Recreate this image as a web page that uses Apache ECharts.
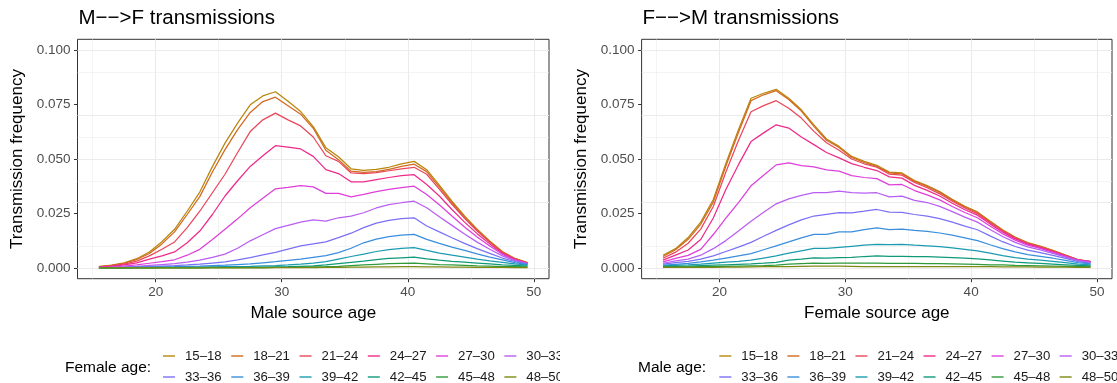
<!DOCTYPE html>
<html>
<head>
<meta charset="utf-8">
<script src="https://cdn.jsdelivr.net/npm/echarts@6/dist/echarts.min.js"></script>
<style>
html,body{margin:0;padding:0;background:#fff;width:1117px;height:383px;overflow:hidden;}
#c1{position:absolute;left:0;top:0;width:560px;height:383px;}
#c2{position:absolute;left:560px;top:0;width:557px;height:383px;}
</style>
</head>
<body>
<div id="c1"></div>
<div id="c2"></div>
<script>
// ---- shared axis values ----
const ages = [15.5,16.5,17.5,18.5,19.5,20.5,21.5,22.5,23.5,24.5,25.5,26.5,27.5,28.5,29.5,30.5,31.5,32.5,33.5,34.5,35.5,36.5,37.5,38.5,39.5,40.5,41.5,42.5,43.5,44.5,45.5,46.5,47.5,48.5,49.5];
const groups = ['15–18','18–21','21–24','24–27','27–30','30–33','33–36','36–39','39–42','42–45','45–48','48–50'];
const xTicks = [20,30,40,50];
const xMinor = [15,25,35,45];
const yTicks = [0,0.025,0.05,0.075,0.1];
const yMinor = [0.0125,0.0375,0.0625,0.0875];

// ---- M-->F transmissions (by female age group) ----
const mf_15_18 = [0.0006,0.0012,0.0023,0.0042,0.0073,0.0120,0.0177,0.0260,0.0348,0.0465,0.0573,0.0665,0.0749,0.0790,0.0809,0.0765,0.0718,0.0649,0.0552,0.0510,0.0455,0.0448,0.0452,0.0462,0.0478,0.0489,0.0451,0.0380,0.0306,0.0238,0.0178,0.0123,0.0075,0.0043,0.0024];
const mf_18_21 = [0.0005,0.0011,0.0021,0.0038,0.0066,0.0110,0.0165,0.0245,0.0327,0.0440,0.0543,0.0635,0.0714,0.0764,0.0784,0.0745,0.0706,0.0641,0.0540,0.0497,0.0444,0.0438,0.0442,0.0452,0.0466,0.0476,0.0442,0.0372,0.0300,0.0233,0.0174,0.0120,0.0073,0.0042,0.0023];
const mf_21_24 = [0.0004,0.0009,0.0017,0.0031,0.0055,0.0085,0.0119,0.0185,0.0260,0.0345,0.0430,0.0530,0.0626,0.0680,0.0711,0.0680,0.0652,0.0601,0.0515,0.0489,0.0436,0.0433,0.0437,0.0446,0.0455,0.0462,0.0430,0.0362,0.0292,0.0227,0.0169,0.0117,0.0071,0.0041,0.0022];
const mf_24_27 = [0.0003,0.0007,0.0013,0.0023,0.0040,0.0055,0.0073,0.0115,0.0169,0.0245,0.0330,0.0400,0.0466,0.0515,0.0561,0.0555,0.0546,0.0512,0.0451,0.0433,0.0395,0.0395,0.0405,0.0415,0.0424,0.0428,0.0383,0.0330,0.0268,0.0210,0.0157,0.0110,0.0067,0.0038,0.0021];
const mf_27_30 = [0.0002,0.0004,0.0008,0.0014,0.0021,0.0028,0.0037,0.0058,0.0085,0.0130,0.0177,0.0225,0.0276,0.0320,0.0363,0.0370,0.0378,0.0372,0.0342,0.0342,0.0326,0.0337,0.0350,0.0360,0.0368,0.0375,0.0337,0.0290,0.0238,0.0188,0.0142,0.0100,0.0062,0.0036,0.0020];
const mf_30_33 = [0.0001,0.0002,0.0004,0.0007,0.0011,0.0015,0.0019,0.0026,0.0035,0.0048,0.0063,0.0090,0.0124,0.0152,0.0180,0.0195,0.0210,0.0220,0.0215,0.0230,0.0238,0.0253,0.0275,0.0290,0.0299,0.0306,0.0276,0.0235,0.0195,0.0155,0.0118,0.0085,0.0055,0.0033,0.0019];
const mf_33_36 = [0.0000,0.0001,0.0002,0.0004,0.0006,0.0008,0.0010,0.0013,0.0017,0.0022,0.0027,0.0036,0.0047,0.0059,0.0071,0.0086,0.0101,0.0110,0.0119,0.0139,0.0159,0.0185,0.0205,0.0218,0.0226,0.0230,0.0192,0.0165,0.0138,0.0112,0.0088,0.0066,0.0045,0.0029,0.0017];
const mf_36_39 = [0.0000,0.0000,0.0001,0.0002,0.0003,0.0004,0.0005,0.0007,0.0008,0.0010,0.0012,0.0015,0.0018,0.0023,0.0028,0.0034,0.0040,0.0048,0.0056,0.0070,0.0090,0.0115,0.0132,0.0143,0.0150,0.0154,0.0131,0.0112,0.0095,0.0080,0.0064,0.0049,0.0036,0.0024,0.0015];
const mf_39_42 = [0.0000,0.0000,0.0000,0.0001,0.0001,0.0002,0.0002,0.0003,0.0003,0.0004,0.0005,0.0006,0.0007,0.0009,0.0010,0.0013,0.0017,0.0022,0.0028,0.0040,0.0052,0.0063,0.0075,0.0084,0.0089,0.0093,0.0080,0.0068,0.0058,0.0049,0.0040,0.0032,0.0025,0.0018,0.0012];
const mf_42_45 = [0.0000,0.0000,0.0000,0.0000,0.0000,0.0001,0.0001,0.0001,0.0001,0.0002,0.0002,0.0002,0.0003,0.0003,0.0004,0.0005,0.0007,0.0009,0.0013,0.0019,0.0025,0.0031,0.0038,0.0043,0.0046,0.0049,0.0041,0.0035,0.0030,0.0026,0.0022,0.0018,0.0014,0.0011,0.0008];
const mf_45_48 = [0.0000,0.0000,0.0000,0.0000,0.0000,0.0000,0.0000,0.0000,0.0000,0.0001,0.0001,0.0001,0.0001,0.0001,0.0002,0.0002,0.0003,0.0004,0.0005,0.0007,0.0010,0.0013,0.0016,0.0019,0.0020,0.0021,0.0018,0.0015,0.0013,0.0011,0.0009,0.0008,0.0006,0.0005,0.0004];
const mf_48_50 = [0.0000,0.0000,0.0000,0.0000,0.0000,0.0000,0.0000,0.0000,0.0000,0.0000,0.0000,0.0000,0.0000,0.0000,0.0001,0.0001,0.0001,0.0001,0.0002,0.0002,0.0003,0.0003,0.0004,0.0004,0.0005,0.0005,0.0004,0.0004,0.0003,0.0003,0.0002,0.0002,0.0002,0.0001,0.0001];

// ---- F-->M transmissions (by male age group) ----
const fm_15_18 = [0.0058,0.0088,0.0139,0.0210,0.0314,0.0480,0.0635,0.0779,0.0802,0.0820,0.0779,0.0726,0.0657,0.0592,0.0558,0.0512,0.0489,0.0471,0.0440,0.0436,0.0401,0.0378,0.0350,0.0315,0.0283,0.0257,0.0215,0.0175,0.0141,0.0116,0.0100,0.0080,0.0059,0.0038,0.0030];
const fm_18_21 = [0.0052,0.0083,0.0131,0.0200,0.0302,0.0468,0.0622,0.0768,0.0795,0.0814,0.0773,0.0720,0.0650,0.0586,0.0553,0.0507,0.0484,0.0466,0.0436,0.0432,0.0397,0.0374,0.0346,0.0311,0.0280,0.0254,0.0212,0.0173,0.0139,0.0114,0.0098,0.0079,0.0058,0.0037,0.0029];
const fm_21_24 = [0.0044,0.0072,0.0113,0.0178,0.0282,0.0440,0.0585,0.0717,0.0745,0.0768,0.0733,0.0688,0.0627,0.0575,0.0540,0.0500,0.0478,0.0462,0.0430,0.0426,0.0392,0.0368,0.0340,0.0306,0.0275,0.0249,0.0208,0.0170,0.0137,0.0112,0.0096,0.0077,0.0057,0.0037,0.0029];
const fm_24_27 = [0.0035,0.0058,0.0082,0.0130,0.0229,0.0360,0.0474,0.0580,0.0620,0.0657,0.0642,0.0601,0.0566,0.0530,0.0505,0.0479,0.0462,0.0447,0.0418,0.0412,0.0379,0.0356,0.0330,0.0297,0.0267,0.0242,0.0202,0.0165,0.0133,0.0109,0.0093,0.0075,0.0055,0.0036,0.0028];
const fm_27_30 = [0.0027,0.0043,0.0057,0.0085,0.0153,0.0228,0.0300,0.0377,0.0425,0.0473,0.0482,0.0470,0.0464,0.0450,0.0444,0.0424,0.0415,0.0410,0.0381,0.0383,0.0355,0.0335,0.0312,0.0282,0.0254,0.0230,0.0192,0.0157,0.0127,0.0104,0.0089,0.0071,0.0053,0.0035,0.0027];
const fm_30_33 = [0.0021,0.0032,0.0040,0.0058,0.0088,0.0125,0.0169,0.0214,0.0255,0.0294,0.0317,0.0333,0.0345,0.0345,0.0352,0.0345,0.0343,0.0345,0.0326,0.0329,0.0310,0.0300,0.0282,0.0258,0.0233,0.0210,0.0176,0.0144,0.0117,0.0096,0.0082,0.0066,0.0049,0.0033,0.0025];
const fm_33_36 = [0.0017,0.0024,0.0030,0.0040,0.0055,0.0075,0.0095,0.0117,0.0145,0.0172,0.0197,0.0220,0.0238,0.0246,0.0254,0.0253,0.0260,0.0268,0.0256,0.0255,0.0245,0.0238,0.0226,0.0210,0.0192,0.0175,0.0147,0.0120,0.0098,0.0081,0.0070,0.0057,0.0043,0.0029,0.0022];
const fm_36_39 = [0.0012,0.0016,0.0020,0.0027,0.0035,0.0045,0.0055,0.0065,0.0083,0.0101,0.0119,0.0138,0.0154,0.0154,0.0165,0.0165,0.0176,0.0183,0.0176,0.0178,0.0172,0.0167,0.0160,0.0150,0.0138,0.0125,0.0106,0.0088,0.0073,0.0061,0.0053,0.0044,0.0034,0.0024,0.0018];
const fm_39_42 = [0.0009,0.0011,0.0013,0.0017,0.0022,0.0026,0.0030,0.0035,0.0045,0.0055,0.0067,0.0078,0.0089,0.0089,0.0094,0.0099,0.0104,0.0108,0.0106,0.0108,0.0104,0.0101,0.0097,0.0092,0.0085,0.0078,0.0067,0.0056,0.0047,0.0040,0.0035,0.0030,0.0024,0.0017,0.0013];
const fm_42_45 = [0.0006,0.0007,0.0008,0.0010,0.0012,0.0014,0.0016,0.0018,0.0021,0.0025,0.0035,0.0040,0.0046,0.0045,0.0047,0.0048,0.0052,0.0055,0.0053,0.0053,0.0052,0.0051,0.0049,0.0047,0.0044,0.0041,0.0036,0.0031,0.0026,0.0023,0.0020,0.0017,0.0014,0.0011,0.0009];
const fm_45_48 = [0.0003,0.0004,0.0004,0.0005,0.0006,0.0007,0.0008,0.0009,0.0010,0.0012,0.0017,0.0019,0.0021,0.0020,0.0021,0.0021,0.0021,0.0021,0.0020,0.0020,0.0020,0.0019,0.0019,0.0018,0.0017,0.0016,0.0014,0.0013,0.0011,0.0010,0.0009,0.0008,0.0007,0.0006,0.0005];
const fm_48_50 = [0.0002,0.0002,0.0002,0.0002,0.0002,0.0003,0.0003,0.0004,0.0005,0.0006,0.0006,0.0007,0.0008,0.0008,0.0008,0.0007,0.0006,0.0006,0.0006,0.0006,0.0006,0.0006,0.0006,0.0006,0.0005,0.0005,0.0005,0.0004,0.0004,0.0004,0.0003,0.0003,0.0003,0.0002,0.0002];

const mfLines = [mf_15_18,mf_18_21,mf_21_24,mf_24_27,mf_27_30,mf_30_33,mf_33_36,mf_36_39,mf_39_42,mf_42_45,mf_45_48,mf_48_50];
const fmLines = [fm_15_18,fm_18_21,fm_21_24,fm_24_27,fm_27_30,fm_30_33,fm_33_36,fm_36_39,fm_39_42,fm_42_45,fm_45_48,fm_48_50];

const colors = ['#B8860B','#D2691E','#E9475A','#EE2A8A','#DE3FDB','#B95EF3','#7B70F5','#3A8EDD','#1B9BB0','#0F9977','#2E9A3A','#7D8912'];
const FONT = '"Liberation Sans", Arial, Helvetica, sans-serif';

function build(el, cfg) {
  const chart = echarts.init(el, null, {renderer: 'canvas'});
  const gridLines = [];
  xTicks.forEach(v => gridLines.push({xAxis: v, lineStyle: {color: '#EBEBEB', width: 1.1, type: 'solid'}}));
  xMinor.forEach(v => gridLines.push({xAxis: v, lineStyle: {color: '#EBEBEB', width: 0.55, type: 'solid'}}));
  yTicks.forEach(v => gridLines.push({yAxis: v, lineStyle: {color: '#EBEBEB', width: 1.1, type: 'solid'}}));
  yMinor.forEach(v => gridLines.push({yAxis: v, lineStyle: {color: '#EBEBEB', width: 0.55, type: 'solid'}}));

  const series = [{
    type: 'line', data: [], silent: true, z: 1, animation: false,
    markLine: {silent: true, symbol: ['none', 'none'], label: {show: false}, animation: false, z: 1,
      lineStyle: {type: 'solid'}, emphasis: {disabled: true}, data: gridLines}
  }];
  cfg.lines.forEach((vals, i) => {
    series.push({
      type: 'line', name: groups[i],
      data: ages.map((a, j) => [a, vals[j]]),
      showSymbol: false, symbol: 'none', smooth: false, animation: false, z: 3,
      lineStyle: {width: 1.25, color: colors[i]}, itemStyle: {color: colors[i]},
      emphasis: {disabled: true}
    });
  });

  const legendCommon = {
    orient: 'horizontal', padding: 0, itemWidth: 12, itemHeight: 1.4, icon: 'rect',
    itemGap: cfg.legendGap, selectedMode: false, width: 900,
    textStyle: {fontFamily: FONT, fontSize: 13.2, color: '#1A1A1A', padding: [0, 0, 0, 5]}
  };

  chart.setOption({
    animation: false,
    textStyle: {fontFamily: FONT},
    title: [
      {text: cfg.title, left: cfg.gridLeft + 1, top: 8, padding: 0,
       textStyle: {fontFamily: FONT, fontSize: 20.5, fontWeight: 'normal', color: '#000'}},
      {text: cfg.legendTitle, left: cfg.legendTitleLeft, top: 360, padding: 0,
       textStyle: {fontFamily: FONT, fontSize: 15.5, fontWeight: 'normal', color: '#000'}}
    ],
    legend: [
      Object.assign({}, legendCommon, {data: groups.slice(0, 6), left: cfg.legendLeft, top: 349.5}),
      Object.assign({}, legendCommon, {data: groups.slice(6), left: cfg.legendLeft, top: 370.5})
    ],
    grid: {left: cfg.gridLeft, right: cfg.gridRight, top: 39.3, bottom: 104.3, show: true,
      borderColor: '#333333', borderWidth: 1, backgroundColor: '#FFFFFF', containLabel: false},
    xAxis: {
      type: 'value', min: 13.8, max: 51.2,
      axisLine: {show: false, onZero: false},
      axisTick: {show: true, length: 3.5, lineStyle: {color: '#333333', width: 1}, customValues: xTicks},
      axisLabel: {customValues: xTicks, color: '#4D4D4D', fontSize: 13.5, margin: 7, fontFamily: FONT},
      splitLine: {show: false}, minorSplitLine: {show: false},
      name: cfg.xName, nameLocation: 'middle', nameGap: 25,
      nameTextStyle: {color: '#000', fontSize: 17, fontFamily: FONT}
    },
    yAxis: {
      type: 'value', min: -0.005, max: 0.105,
      axisLine: {show: false, onZero: false},
      axisTick: {show: true, length: 3.5, lineStyle: {color: '#333333', width: 1}, customValues: yTicks},
      axisLabel: {customValues: yTicks, color: '#4D4D4D', fontSize: 13.5, margin: 7, fontFamily: FONT,
        formatter: v => Number(v).toFixed(3)},
      splitLine: {show: false},
      name: 'Transmission frequency', nameLocation: 'middle', nameGap: 50, nameRotate: 90,
      nameTextStyle: {color: '#000', fontSize: 17, fontFamily: FONT}
    },
    series: series
  });
  return chart;
}

build(document.getElementById('c1'), {
  lines: mfLines, title: 'M−−>F transmissions', xName: 'Male source age', legendTitle: 'Female age:',
  gridLeft: 77.5, gridRight: 11, legendLeft: 163, legendTitleLeft: 65, legendGap: 9.6
});
build(document.getElementById('c2'), {
  lines: fmLines, title: 'F−−>M transmissions', xName: 'Female source age', legendTitle: 'Male age:',
  gridLeft: 81.6, gridRight: 5, legendLeft: 159.3, legendTitleLeft: 78, legendGap: 9.4
});
</script>
</body>
</html>
